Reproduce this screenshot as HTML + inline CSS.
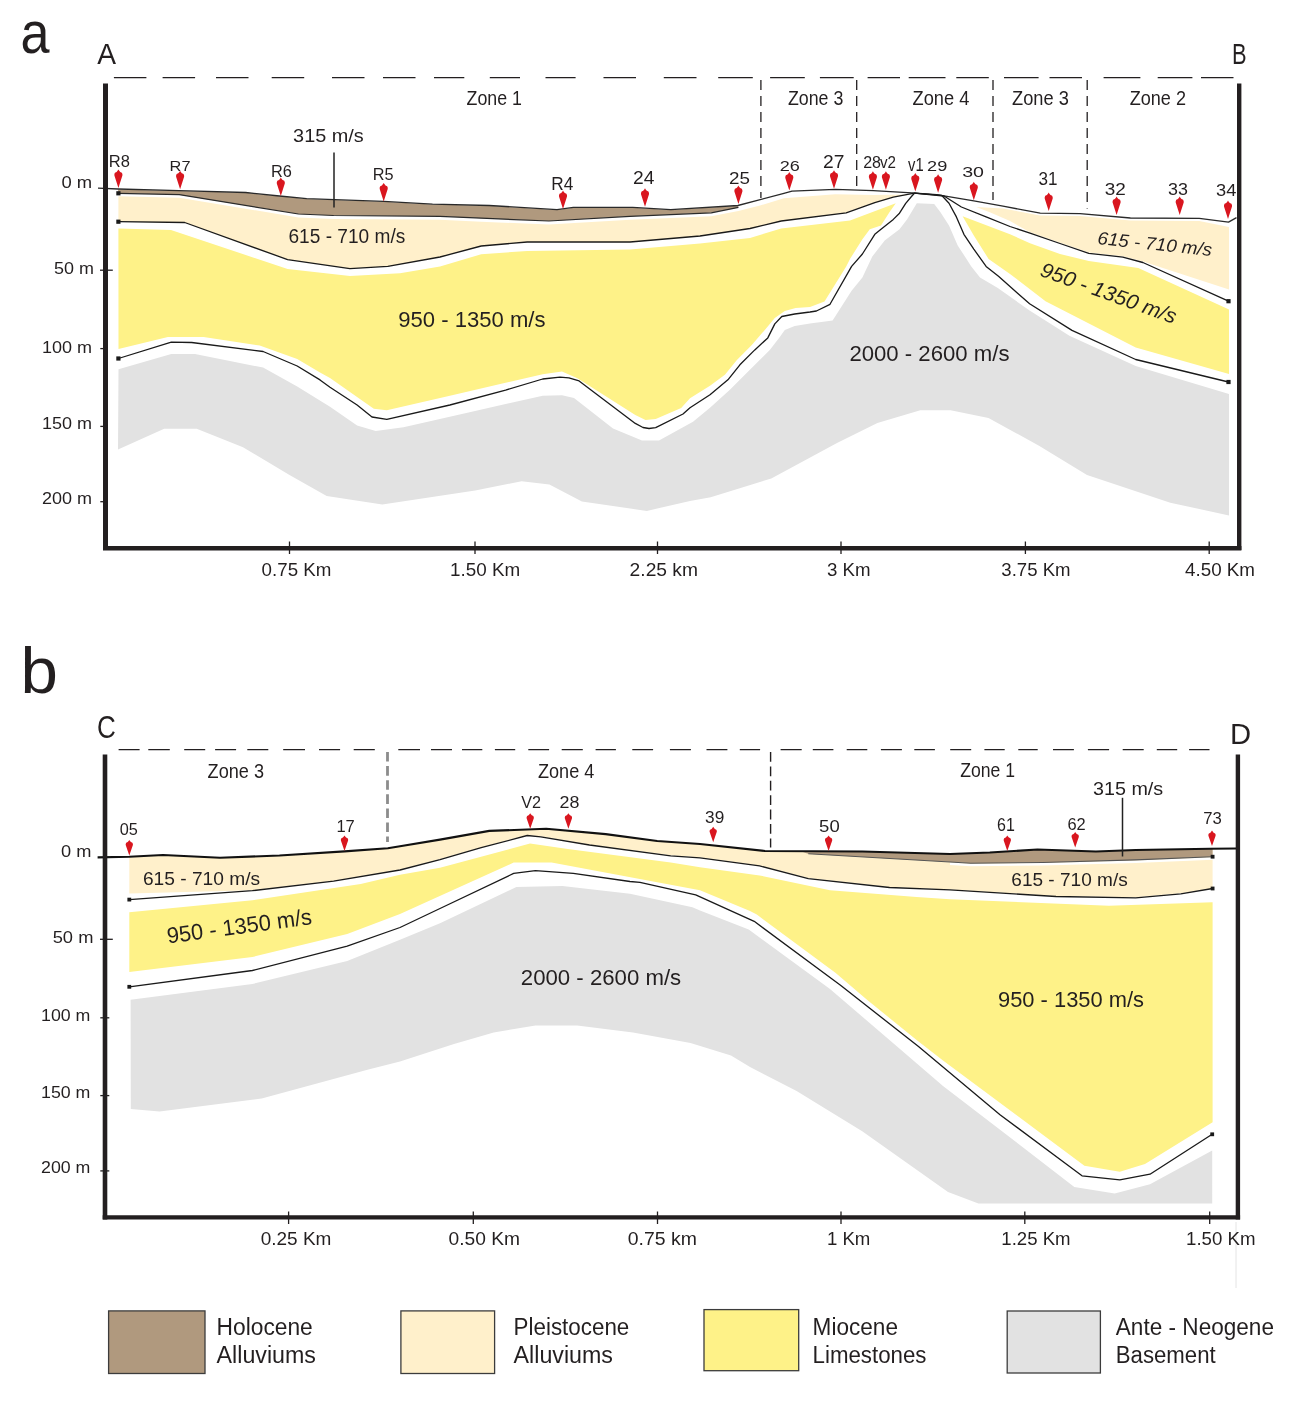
<!DOCTYPE html>
<html><head><meta charset="utf-8"><title>Cross sections</title>
<style>
html,body{margin:0;padding:0;background:#fff;}
body{width:1293px;height:1403px;overflow:hidden;font-family:"Liberation Sans",sans-serif;}
svg{display:block;will-change:transform;}
</style></head>
<body>
<svg width="1293" height="1403" viewBox="0 0 1293 1403">
<rect width="1293" height="1403" fill="#fff"/>
<polygon points="118.5,369.3 171.3,354.0 195.0,354.0 263.1,367.6 297.2,386.4 330.0,406.8 357.1,425.4 375.7,431.0 403.5,427.2 468.5,412.4 542.7,395.7 562.0,395.3 574.0,397.9 613.0,428.5 642.0,440.4 659.0,440.4 693.0,421.7 710.0,407.7 729.9,389.8 749.9,369.8 769.8,349.9 779.8,336.9 784.8,329.9 794.7,325.9 810.0,323.4 832.6,320.5 851.6,290.8 862.4,277.6 872.3,256.5 884.7,240.4 899.5,229.3 907.0,219.4 916.8,203.3 934.2,204.0 940.3,212.0 949.0,225.6 957.7,245.4 971.3,266.4 980.0,277.6 997.8,288.0 1029.6,310.5 1069.4,335.7 1135.7,366.0 1229.0,394.0 1229.0,515.4 1170.3,502.7 1087.0,475.0 1039.0,445.7 988.5,417.9 950.6,410.3 920.3,410.3 877.4,423.0 837.0,443.0 771.3,478.5 710.7,497.2 690.0,501.0 646.8,510.9 581.9,501.6 549.4,484.4 521.6,481.2 475.2,490.4 382.3,504.4 326.7,496.0 289.5,475.0 243.0,447.3 196.7,428.7 164.2,428.7 118.0,449.6" fill="#e2e2e2" />
<polygon points="118.4,228.5 171.0,230.0 287.6,269.0 350.0,276.0 400.0,273.2 440.0,266.4 481.2,254.2 527.2,251.0 630.0,249.6 700.0,243.4 750.0,238.0 781.2,228.5 850.0,220.6 895.8,203.3 889.6,212.0 881.0,225.6 869.8,229.3 862.4,239.2 850.0,259.0 846.2,266.4 824.5,301.6 810.0,307.0 795.7,308.0 784.8,311.0 774.8,318.0 764.8,329.9 751.8,344.9 736.9,359.9 724.9,374.8 710.0,385.8 690.0,398.3 681.2,408.0 655.7,419.0 645.5,420.0 635.3,414.9 577.4,378.3 562.0,371.5 542.7,374.3 505.6,382.7 449.9,395.7 386.8,410.2 373.8,408.7 330.0,377.9 320.0,372.5 297.2,359.1 259.7,345.5 203.6,337.0 167.9,337.0 118.5,348.9" fill="#fef288" />
<polygon points="962.6,216.3 1010.0,234.3 1030.0,243.2 1060.0,254.0 1088.8,261.0 1138.3,268.0 1229.0,309.5 1229.0,374.0 1135.7,347.6 1045.5,301.2 1010.0,273.9 988.6,259.0 973.8,235.5" fill="#fef288" />
<polygon points="118.4,196.3 179.3,197.8 298.4,217.4 333.6,219.0 440.0,219.8 481.2,221.7 548.9,224.5 630.0,219.8 711.3,216.3 738.4,211.0 760.0,205.5 783.9,198.3 835.3,194.3 873.3,195.0 911.9,194.5 893.3,197.1 874.8,202.7 850.0,210.7 846.2,212.8 781.2,221.0 750.0,228.5 700.0,236.0 630.0,242.0 527.2,242.0 481.2,246.0 440.0,257.0 387.8,266.4 349.9,268.6 287.6,259.6 184.7,222.5 118.4,221.7" fill="#fff0cb" />
<polygon points="976.2,207.0 1003.0,208.5 1040.2,215.5 1080.0,216.0 1130.4,220.5 1199.3,221.0 1229.0,227.0 1229.0,289.6 1142.9,261.5 1122.8,256.3 1088.8,252.5 1060.0,242.7 1030.0,232.3 1010.0,221.0 989.8,212.3" fill="#fff0cb" />
<polygon points="118.0,189.5 179.0,191.0 245.7,192.8 279.5,196.3 306.6,199.0 383.7,201.7 432.5,204.4 489.3,205.8 557.0,209.9 573.3,207.7 632.8,207.7 670.7,209.9 737.9,205.8 738.4,207.4 711.3,212.8 630.0,216.3 548.9,221.0 481.2,218.2 440.0,216.3 333.6,215.5 298.4,214.0 179.3,194.7 118.4,193.3" fill="#b0997e" />
<polyline points="98.0,188.2 118.0,189.0 179.0,190.6 245.7,192.5 279.5,196.0 306.6,198.7 383.7,201.4 432.5,204.1 489.3,205.5 557.0,209.6 573.3,207.4 632.8,207.4 670.7,209.6 737.9,205.5 783.9,193.3 792.0,191.1 835.3,189.3 873.3,190.6 911.9,192.8 936.6,194.7 973.8,200.8 1003.0,206.2 1040.2,213.1 1080.0,213.7 1130.4,218.0 1199.3,218.4 1228.5,222.1 1236.5,217.6" fill="none" stroke="#2a2a2a" stroke-width="1.3" stroke-linejoin="round" />
<polyline points="118.4,193.3 179.3,194.7 298.4,214.0 333.6,215.5 440.0,216.3 481.2,218.2 548.9,221.0 630.0,216.3 711.3,212.8 738.4,207.4" fill="none" stroke="#2a2a2a" stroke-width="1.2" stroke-linejoin="round" />
<polyline points="118.4,221.7 184.7,222.5 287.6,259.6 349.9,268.6 387.8,266.4 440.0,257.0 481.2,246.0 527.2,242.0 630.0,242.0 700.0,236.0 750.0,228.5 781.2,221.0 846.2,212.8 874.8,202.7 893.3,197.1 914.4,193.2 944.0,196.0 961.4,207.0 986.1,216.9 1010.0,226.5 1030.0,233.1 1060.0,243.5 1088.8,253.3 1122.8,257.1 1142.9,262.5 1228.5,301.2" fill="none" stroke="#1a1a1a" stroke-width="1.3" stroke-linejoin="round" />
<polyline points="118.4,358.5 171.3,342.1 191.7,342.5 263.1,351.5 297.2,366.0 320.0,379.9 330.0,387.2 357.1,405.0 372.0,417.0 386.8,419.4 449.9,405.0 505.6,390.1 542.7,379.0 560.0,377.1 568.9,377.8 579.1,380.9 635.3,423.4 643.0,427.5 649.0,428.5 655.7,427.7 683.0,414.0 690.0,407.7 710.0,394.8 727.9,379.8 739.9,364.8 754.8,349.9 767.8,337.9 774.8,323.9 781.8,316.5 794.7,314.0 810.0,312.0 816.4,311.0 830.0,304.3 851.6,266.4 862.4,254.0 874.8,234.3 881.0,229.3 893.3,219.4 899.5,213.2 905.7,203.3 911.9,196.0 914.4,193.2 941.6,195.3 949.0,203.3 956.4,216.9 963.9,234.3 973.8,249.1 986.1,266.4 998.5,276.3 1029.6,303.8 1072.0,330.4 1135.7,359.5 1228.5,382.0" fill="none" stroke="#1a1a1a" stroke-width="1.3" stroke-linejoin="round" />
<rect x="116.3" y="191.2" width="4.2" height="4.2" fill="#1a1a1a"/>
<rect x="116.3" y="219.6" width="4.2" height="4.2" fill="#1a1a1a"/>
<rect x="116.3" y="356.4" width="4.2" height="4.2" fill="#1a1a1a"/>
<rect x="1226.4" y="299.1" width="4.2" height="4.2" fill="#1a1a1a"/>
<rect x="1226.4" y="379.9" width="4.2" height="4.2" fill="#1a1a1a"/>
<line x1="334" y1="152.5" x2="334" y2="207.5" stroke="#222" stroke-width="1.5"/>
<g stroke="#231f20" fill="none">
<line x1="105.5" y1="83.5" x2="105.5" y2="550" stroke-width="5"/>
<line x1="103" y1="548.2" x2="1241.4" y2="548.2" stroke-width="4.6"/>
<line x1="1239.2" y1="83.5" x2="1239.2" y2="550" stroke-width="4.4"/>
<line x1="100" y1="270.2" x2="112.8" y2="270.2" stroke-width="1.3"/>
<line x1="100.3" y1="348.6" x2="108" y2="348.6" stroke-width="1.3"/>
<line x1="100.3" y1="426.4" x2="108" y2="426.4" stroke-width="1.3"/>
<line x1="100.3" y1="501.7" x2="108" y2="501.7" stroke-width="1.3"/>
<line x1="289.5" y1="541.5" x2="289.5" y2="554" stroke-width="1.3"/>
<line x1="475" y1="541.5" x2="475" y2="554" stroke-width="1.3"/>
<line x1="657.5" y1="541.5" x2="657.5" y2="554" stroke-width="1.3"/>
<line x1="841" y1="541.5" x2="841" y2="554" stroke-width="1.3"/>
<line x1="1025.4" y1="541.5" x2="1025.4" y2="554" stroke-width="1.3"/>
<line x1="1209.2" y1="541.5" x2="1209.2" y2="554" stroke-width="1.3"/>
</g>
<path d="M113.9,77.6H146.4 M162.6,77.6H195.1 M216,77.6H248.5 M271.7,77.6H304.2 M332,77.6H364.5 M383,77.6H415.5 M434,77.6H464.3 M489.8,77.6H520 M545.5,77.6H575.6 M603.5,77.6H636 M663.8,77.6H696.5 M718.2,77.6H752.8 M770.1,77.6H804.8 M819.9,77.6H853.7 M867.6,77.6H900 M908.7,77.6H945.5 M956.3,77.6H988.8 M1004,77.6H1038.6 M1049.5,77.6H1082 M1103.6,77.6H1140.4 M1157.7,77.6H1192.4 M1201,77.6H1233.5" stroke="#231f20" stroke-width="1.2" fill="none"/>
<line x1="760.9" y1="80" x2="760.9" y2="198" stroke="#231f20" stroke-width="1.3" stroke-dasharray="10 6"/>
<line x1="856.7" y1="80" x2="856.7" y2="186" stroke="#231f20" stroke-width="1.3" stroke-dasharray="10 6"/>
<line x1="993" y1="80" x2="993" y2="200" stroke="#231f20" stroke-width="1.3" stroke-dasharray="10 6"/>
<line x1="1087.2" y1="80" x2="1087.2" y2="208.5" stroke="#231f20" stroke-width="1.3" stroke-dasharray="10 6"/>
<polygon points="130.6,999.8 252.4,984.0 347.2,961.0 400.0,939.7 440.0,923.2 516.4,887.0 562.4,886.1 630.0,893.7 692.4,907.2 700.0,910.5 748.7,929.5 830.0,989.0 889.5,1040.0 943.0,1085.9 1074.3,1186.9 1114.7,1193.4 1150.0,1184.3 1212.2,1150.5 1212.2,1203.5 978.4,1203.5 948.0,1192.0 862.2,1131.3 796.6,1091.0 750.0,1067.0 731.0,1055.6 690.5,1043.0 633.0,1032.5 577.2,1025.5 535.5,1025.5 493.7,1032.5 454.0,1044.0 400.0,1061.5 368.4,1069.6 261.7,1098.4 159.6,1111.4 130.8,1109.0" fill="#e2e2e2" />
<polygon points="129.3,912.3 252.4,900.2 360.7,883.9 400.0,874.7 440.0,867.7 530.0,843.6 567.8,849.0 670.7,862.6 700.0,867.2 759.6,875.4 830.0,890.2 916.6,897.0 950.0,899.2 1109.0,905.8 1212.6,902.3 1212.6,1122.2 1145.0,1164.0 1119.8,1171.7 1084.4,1165.7 943.0,1060.6 916.6,1040.0 867.3,1000.0 835.4,972.8 756.8,914.6 750.0,911.0 700.0,890.2 551.6,862.6 513.7,862.6 400.0,914.0 347.2,934.0 252.4,957.0 129.3,971.9" fill="#fef288" />
<polygon points="129.3,857.5 163.0,855.0 220.0,857.7 279.5,855.5 344.5,851.4 387.8,848.2 400.0,846.3 440.0,839.6 489.3,830.9 546.2,828.7 605.7,834.1 657.2,841.0 700.0,844.0 765.0,851.0 862.4,851.5 950.0,854.0 989.8,852.5 1037.5,849.5 1095.9,851.5 1135.7,850.0 1210.0,848.8 1212.6,848.0 1212.6,888.5 1180.8,893.3 1135.7,897.3 1056.0,896.0 950.0,889.4 889.5,887.0 808.3,878.1 759.6,865.4 700.0,857.3 670.7,855.3 589.5,844.5 540.8,836.3 527.2,835.0 481.2,847.2 440.0,859.1 400.0,869.5 333.6,880.7 252.4,890.2 129.3,893.4" fill="#fff0cb" />
<polygon points="803.0,852.3 862.4,851.5 950.0,854.0 989.8,852.5 1037.5,849.5 1095.9,851.5 1135.7,850.0 1210.0,848.8 1212.6,848.8 1212.6,856.7 1135.7,859.9 1042.8,862.5 970.7,863.2 950.0,862.0 808.3,853.7" fill="#b0997e" />
<polyline points="97.6,857.4 129.3,856.8 163.0,855.0 220.0,857.7 279.5,855.5 344.5,851.4 387.8,848.2 400.0,846.3 440.0,839.6 489.3,830.9 546.2,828.7 605.7,834.1 657.2,841.0 700.0,844.0 765.0,851.0 862.4,851.5 950.0,854.0 989.8,852.5 1037.5,849.5 1095.9,851.5 1135.7,850.0 1210.0,848.8 1236.5,848.5" fill="none" stroke="#111" stroke-width="2.1" stroke-linejoin="round" />
<polyline points="129.3,899.6 252.4,890.7 333.6,881.2 400.0,870.0 440.0,859.6 481.2,847.7 527.2,835.5 540.8,836.8 589.5,845.0 670.7,855.8 700.0,857.8 759.6,865.9 808.3,878.6 889.5,887.5 950.0,889.9 1056.0,896.5 1135.7,897.8 1180.8,893.8 1212.6,888.5" fill="none" stroke="#1a1a1a" stroke-width="1.3" stroke-linejoin="round" />
<polyline points="950.0,863.8 970.7,865.0 1042.8,864.3 1135.7,861.7 1212.6,858.5" fill="none" stroke="#fff" stroke-width="2.6" stroke-linejoin="round" />
<polyline points="808.3,853.7 950.0,862.0 970.7,863.2 1042.8,862.5 1135.7,859.9 1212.6,856.7" fill="none" stroke="#555" stroke-width="1.1" stroke-linejoin="round" />
<polyline points="129.3,986.8 252.4,970.5 347.2,946.2 400.0,927.5 440.0,908.5 513.7,873.4 535.4,870.7 573.3,873.4 630.0,881.5 640.0,882.3 695.7,894.8 754.2,921.3 840.5,985.3 918.5,1046.5 1000.0,1114.7 1082.0,1175.8 1119.8,1179.8 1150.0,1174.2 1212.2,1134.3" fill="none" stroke="#1a1a1a" stroke-width="1.3" stroke-linejoin="round" />
<rect x="127.4" y="897.7" width="3.8" height="3.8" fill="#1a1a1a"/>
<rect x="127.4" y="984.9" width="3.8" height="3.8" fill="#1a1a1a"/>
<rect x="1210.7" y="854.8" width="3.8" height="3.8" fill="#1a1a1a"/>
<rect x="1210.7" y="886.6" width="3.8" height="3.8" fill="#1a1a1a"/>
<rect x="1210.3" y="1132.4" width="3.8" height="3.8" fill="#1a1a1a"/>
<line x1="1122.5" y1="797.8" x2="1122.5" y2="856.5" stroke="#222" stroke-width="1.5"/>
<g stroke="#231f20" fill="none">
<line x1="105" y1="754.5" x2="105" y2="1219.5" stroke-width="4.6"/>
<line x1="102.7" y1="1217.4" x2="1240.1" y2="1217.4" stroke-width="4.2"/>
<line x1="1237.9" y1="754.5" x2="1237.9" y2="1219.5" stroke-width="4.4"/>
<line x1="100" y1="939.3" x2="112.8" y2="939.3" stroke-width="1.3"/>
<line x1="100.3" y1="1017.8" x2="109.3" y2="1017.8" stroke-width="1.3"/>
<line x1="100.3" y1="1095.6" x2="109.3" y2="1095.6" stroke-width="1.3"/>
<line x1="100.3" y1="1170.9" x2="109.3" y2="1170.9" stroke-width="1.3"/>
<line x1="288.6" y1="1211.5" x2="288.6" y2="1224" stroke-width="1.3"/>
<line x1="473.3" y1="1211.5" x2="473.3" y2="1224" stroke-width="1.3"/>
<line x1="657.5" y1="1211.5" x2="657.5" y2="1224" stroke-width="1.3"/>
<line x1="841" y1="1211.5" x2="841" y2="1224" stroke-width="1.3"/>
<line x1="1024.8" y1="1211.5" x2="1024.8" y2="1224" stroke-width="1.3"/>
<line x1="1209.7" y1="1211.5" x2="1209.7" y2="1224" stroke-width="1.3"/>
</g>
<path d="M118.6,749.6H139.6 M148.3,749.6H169.8 M184.2,749.6H205.2 M215.1,749.6H236.1 M247.3,749.6H268.3 M283.2,749.6H305 M319,749.6H340.1 M353.7,749.6H374.8 M398.3,749.6H420 M431,749.6H452 M462,749.6H482.3 M494.9,749.6H515.2 M528.3,749.6H549.1 M561.7,749.6H582.8 M595.6,749.6H615.9 M632.3,749.6H653.1 M669.9,749.6H690.9 M706.5,749.6H727.4 M739.8,749.6H760.1 M780.6,749.6H801.7 M812.8,749.6H833.4 M846.7,749.6H867.3 M880.9,749.6H901.9 M914.3,749.6H934.9 M950.2,749.6H971.2 M984.4,749.6H1004.7 M1018.3,749.6H1037.7 M1053,749.6H1073.9 M1087.9,749.6H1109.1 M1122.7,749.6H1143.7 M1156.8,749.6H1177.2 M1189.1,749.6H1209.5" stroke="#231f20" stroke-width="1.3" fill="none"/>
<line x1="387.5" y1="752" x2="387.5" y2="842" stroke="#8c8c8c" stroke-width="2.8" stroke-dasharray="9.6 4.5"/>
<line x1="770.6" y1="752" x2="770.6" y2="847.5" stroke="#231f20" stroke-width="1.4" stroke-dasharray="9.8 4.6"/>
<line x1="1236" y1="1222" x2="1236" y2="1288" stroke="#e4e4e4" stroke-width="1"/>
<path d="M118.40,187.90 L114.40,175.40 L114.40,174.10 Q114.40,172.50 116.60,171.90 L117.70,170.60 L118.40,169.40 L119.10,170.60 L120.20,171.90 Q122.40,172.50 122.40,174.10 L122.40,175.40 Z" fill="#d9161f"/>
<path d="M180.10,189.30 L176.10,176.80 L176.10,175.50 Q176.10,173.90 178.30,173.30 L179.40,172.00 L180.10,170.80 L180.80,172.00 L181.90,173.30 Q184.10,173.90 184.10,175.50 L184.10,176.80 Z" fill="#d9161f"/>
<path d="M280.80,196.00 L276.80,183.50 L276.80,182.20 Q276.80,180.60 279.00,180.00 L280.10,178.70 L280.80,177.50 L281.50,178.70 L282.60,180.00 Q284.80,180.60 284.80,182.20 L284.80,183.50 Z" fill="#d9161f"/>
<path d="M383.70,201.40 L379.70,188.90 L379.70,187.60 Q379.70,186.00 381.90,185.40 L383.00,184.10 L383.70,182.90 L384.40,184.10 L385.50,185.40 Q387.70,186.00 387.70,187.60 L387.70,188.90 Z" fill="#d9161f"/>
<path d="M563.00,209.00 L559.00,196.50 L559.00,195.20 Q559.00,193.60 561.20,193.00 L562.30,191.70 L563.00,190.50 L563.70,191.70 L564.80,193.00 Q567.00,193.60 567.00,195.20 L567.00,196.50 Z" fill="#d9161f"/>
<path d="M645.00,206.80 L641.00,194.30 L641.00,193.00 Q641.00,191.40 643.20,190.80 L644.30,189.50 L645.00,188.30 L645.70,189.50 L646.80,190.80 Q649.00,191.40 649.00,193.00 L649.00,194.30 Z" fill="#d9161f"/>
<path d="M738.40,204.10 L734.40,191.60 L734.40,190.30 Q734.40,188.70 736.60,188.10 L737.70,186.80 L738.40,185.60 L739.10,186.80 L740.20,188.10 Q742.40,188.70 742.40,190.30 L742.40,191.60 Z" fill="#d9161f"/>
<path d="M789.30,190.60 L785.30,178.10 L785.30,176.80 Q785.30,175.20 787.50,174.60 L788.60,173.30 L789.30,172.10 L790.00,173.30 L791.10,174.60 Q793.30,175.20 793.30,176.80 L793.30,178.10 Z" fill="#d9161f"/>
<path d="M834.00,188.70 L830.00,176.20 L830.00,174.90 Q830.00,173.30 832.20,172.70 L833.30,171.40 L834.00,170.20 L834.70,171.40 L835.80,172.70 Q838.00,173.30 838.00,174.90 L838.00,176.20 Z" fill="#d9161f"/>
<path d="M872.90,189.70 L868.90,177.20 L868.90,175.90 Q868.90,174.30 871.10,173.70 L872.20,172.40 L872.90,171.20 L873.60,172.40 L874.70,173.70 Q876.90,174.30 876.90,175.90 L876.90,177.20 Z" fill="#d9161f"/>
<path d="M885.90,189.70 L881.90,177.20 L881.90,175.90 Q881.90,174.30 884.10,173.70 L885.20,172.40 L885.90,171.20 L886.60,172.40 L887.70,173.70 Q889.90,174.30 889.90,175.90 L889.90,177.20 Z" fill="#d9161f"/>
<path d="M915.30,191.60 L911.30,179.10 L911.30,177.80 Q911.30,176.20 913.50,175.60 L914.60,174.30 L915.30,173.10 L916.00,174.30 L917.10,175.60 Q919.30,176.20 919.30,177.80 L919.30,179.10 Z" fill="#d9161f"/>
<path d="M938.10,192.80 L934.10,180.30 L934.10,179.00 Q934.10,177.40 936.30,176.80 L937.40,175.50 L938.10,174.30 L938.80,175.50 L939.90,176.80 Q942.10,177.40 942.10,179.00 L942.10,180.30 Z" fill="#d9161f"/>
<path d="M973.80,200.20 L969.80,187.70 L969.80,186.40 Q969.80,184.80 972.00,184.20 L973.10,182.90 L973.80,181.70 L974.50,182.90 L975.60,184.20 Q977.80,184.80 977.80,186.40 L977.80,187.70 Z" fill="#d9161f"/>
<path d="M1048.70,211.00 L1044.70,198.50 L1044.70,197.20 Q1044.70,195.60 1046.90,195.00 L1048.00,193.70 L1048.70,192.50 L1049.40,193.70 L1050.50,195.00 Q1052.70,195.60 1052.70,197.20 L1052.70,198.50 Z" fill="#d9161f"/>
<path d="M1116.60,215.00 L1112.60,202.50 L1112.60,201.20 Q1112.60,199.60 1114.80,199.00 L1115.90,197.70 L1116.60,196.50 L1117.30,197.70 L1118.40,199.00 Q1120.60,199.60 1120.60,201.20 L1120.60,202.50 Z" fill="#d9161f"/>
<path d="M1179.70,215.00 L1175.70,202.50 L1175.70,201.20 Q1175.70,199.60 1177.90,199.00 L1179.00,197.70 L1179.70,196.50 L1180.40,197.70 L1181.50,199.00 Q1183.70,199.60 1183.70,201.20 L1183.70,202.50 Z" fill="#d9161f"/>
<path d="M1228.00,219.00 L1224.00,206.50 L1224.00,205.20 Q1224.00,203.60 1226.20,203.00 L1227.30,201.70 L1228.00,200.50 L1228.70,201.70 L1229.80,203.00 Q1232.00,203.60 1232.00,205.20 L1232.00,206.50 Z" fill="#d9161f"/>
<path d="M129.30,855.50 L125.70,845.03 L125.70,843.94 Q125.70,842.60 127.68,842.09 L128.60,841.01 L129.30,840.00 L130.00,841.01 L130.92,842.09 Q132.90,842.60 132.90,843.94 L132.90,845.03 Z" fill="#d9161f"/>
<path d="M344.50,850.90 L340.90,840.43 L340.90,839.34 Q340.90,838.00 342.88,837.49 L343.80,836.41 L344.50,835.40 L345.20,836.41 L346.12,837.49 Q348.10,838.00 348.10,839.34 L348.10,840.43 Z" fill="#d9161f"/>
<path d="M530.20,828.70 L526.60,818.23 L526.60,817.14 Q526.60,815.80 528.58,815.29 L529.50,814.21 L530.20,813.20 L530.90,814.21 L531.82,815.29 Q533.80,815.80 533.80,817.14 L533.80,818.23 Z" fill="#d9161f"/>
<path d="M568.40,828.70 L564.80,818.23 L564.80,817.14 Q564.80,815.80 566.78,815.29 L567.70,814.21 L568.40,813.20 L569.10,814.21 L570.02,815.29 Q572.00,815.80 572.00,817.14 L572.00,818.23 Z" fill="#d9161f"/>
<path d="M713.20,842.30 L709.60,831.83 L709.60,830.74 Q709.60,829.40 711.58,828.89 L712.50,827.81 L713.20,826.80 L713.90,827.81 L714.82,828.89 Q716.80,829.40 716.80,830.74 L716.80,831.83 Z" fill="#d9161f"/>
<path d="M828.60,851.00 L825.00,840.53 L825.00,839.44 Q825.00,838.10 826.98,837.59 L827.90,836.51 L828.60,835.50 L829.30,836.51 L830.22,837.59 Q832.20,838.10 832.20,839.44 L832.20,840.53 Z" fill="#d9161f"/>
<path d="M1007.30,851.00 L1003.70,840.53 L1003.70,839.44 Q1003.70,838.10 1005.68,837.59 L1006.60,836.51 L1007.30,835.50 L1008.00,836.51 L1008.92,837.59 Q1010.90,838.10 1010.90,839.44 L1010.90,840.53 Z" fill="#d9161f"/>
<path d="M1075.20,847.40 L1071.60,836.93 L1071.60,835.84 Q1071.60,834.50 1073.58,833.99 L1074.50,832.91 L1075.20,831.90 L1075.90,832.91 L1076.82,833.99 Q1078.80,834.50 1078.80,835.84 L1078.80,836.93 Z" fill="#d9161f"/>
<path d="M1212.00,846.10 L1208.40,835.63 L1208.40,834.54 Q1208.40,833.20 1210.38,832.69 L1211.30,831.61 L1212.00,830.60 L1212.70,831.61 L1213.62,832.69 Q1215.60,833.20 1215.60,834.54 L1215.60,835.63 Z" fill="#d9161f"/>
<rect x="108.6" y="1310.9" width="96.4" height="62.6" fill="#b0997e" stroke="#3c3c3c" stroke-width="1.3"/>
<rect x="400.9" y="1310.9" width="93.7" height="62.6" fill="#fff0cb" stroke="#3c3c3c" stroke-width="1.3"/>
<rect x="704" y="1309.6" width="94.7" height="61.1" fill="#fef288" stroke="#3c3c3c" stroke-width="1.3"/>
<rect x="1007.2" y="1311" width="93.2" height="62.0" fill="#e2e2e2" stroke="#3c3c3c" stroke-width="1.3"/>
<g fill="#231f20" font-family="Liberation Sans, sans-serif">
<text x="20.5" y="53.3" font-size="60" textLength="29.0" lengthAdjust="spacingAndGlyphs" >a</text>
<text x="20.6" y="692.8" font-size="64" textLength="37.4" lengthAdjust="spacingAndGlyphs" >b</text>
<text x="97.2" y="63.6" font-size="29.5" textLength="18.8" lengthAdjust="spacingAndGlyphs" >A</text>
<text x="1232.1" y="63.9" font-size="29.5" textLength="14.6" lengthAdjust="spacingAndGlyphs" >B</text>
<text x="96.9" y="738.0" font-size="30.5" textLength="18.8" lengthAdjust="spacingAndGlyphs" >C</text>
<text x="1230.0" y="743.7" font-size="29.5" textLength="21.1" lengthAdjust="spacingAndGlyphs" >D</text>
<text x="466.6" y="105.4" font-size="19.5" textLength="55.4" lengthAdjust="spacingAndGlyphs" >Zone 1</text>
<text x="787.9" y="105.4" font-size="19.5" textLength="55.4" lengthAdjust="spacingAndGlyphs" >Zone 3</text>
<text x="912.5" y="105.4" font-size="19.5" textLength="56.8" lengthAdjust="spacingAndGlyphs" >Zone 4</text>
<text x="1012.0" y="105.4" font-size="19.5" textLength="56.8" lengthAdjust="spacingAndGlyphs" >Zone 3</text>
<text x="1129.7" y="105.4" font-size="19.5" textLength="56.3" lengthAdjust="spacingAndGlyphs" >Zone 2</text>
<text x="207.6" y="778.3" font-size="19.5" textLength="56.4" lengthAdjust="spacingAndGlyphs" >Zone 3</text>
<text x="538.0" y="778.3" font-size="19.5" textLength="56.3" lengthAdjust="spacingAndGlyphs" >Zone 4</text>
<text x="960.2" y="777.4" font-size="19.5" textLength="54.8" lengthAdjust="spacingAndGlyphs" >Zone 1</text>
<text x="61.4" y="188.0" font-size="16.3" textLength="30.7" lengthAdjust="spacingAndGlyphs" >0 m</text>
<text x="54.0" y="274.2" font-size="16.3" textLength="39.9" lengthAdjust="spacingAndGlyphs" >50 m</text>
<text x="42.0" y="352.5" font-size="16.3" textLength="50.1" lengthAdjust="spacingAndGlyphs" >100 m</text>
<text x="42.0" y="429.4" font-size="16.3" textLength="50.1" lengthAdjust="spacingAndGlyphs" >150 m</text>
<text x="42.0" y="503.7" font-size="16.3" textLength="50.1" lengthAdjust="spacingAndGlyphs" >200 m</text>
<text x="61.0" y="856.7" font-size="16.3" textLength="30.4" lengthAdjust="spacingAndGlyphs" >0 m</text>
<text x="52.7" y="943.0" font-size="16.3" textLength="40.7" lengthAdjust="spacingAndGlyphs" >50 m</text>
<text x="41.0" y="1021.3" font-size="16.3" textLength="49.4" lengthAdjust="spacingAndGlyphs" >100 m</text>
<text x="41.0" y="1097.6" font-size="16.3" textLength="49.4" lengthAdjust="spacingAndGlyphs" >150 m</text>
<text x="41.0" y="1173.4" font-size="16.3" textLength="49.4" lengthAdjust="spacingAndGlyphs" >200 m</text>
<text x="261.6" y="575.8" font-size="19.2" textLength="69.8" lengthAdjust="spacingAndGlyphs" >0.75 Km</text>
<text x="450.0" y="575.8" font-size="19.2" textLength="70.2" lengthAdjust="spacingAndGlyphs" >1.50 Km</text>
<text x="629.6" y="575.8" font-size="19.2" textLength="68.4" lengthAdjust="spacingAndGlyphs" >2.25 km</text>
<text x="826.9" y="575.8" font-size="19.2" textLength="43.6" lengthAdjust="spacingAndGlyphs" >3 Km</text>
<text x="1001.3" y="575.8" font-size="19.2" textLength="69.3" lengthAdjust="spacingAndGlyphs" >3.75 Km</text>
<text x="1185.0" y="575.8" font-size="19.2" textLength="70.0" lengthAdjust="spacingAndGlyphs" >4.50 Km</text>
<text x="260.7" y="1244.9" font-size="19.2" textLength="70.7" lengthAdjust="spacingAndGlyphs" >0.25 Km</text>
<text x="448.5" y="1244.9" font-size="19.2" textLength="71.5" lengthAdjust="spacingAndGlyphs" >0.50 Km</text>
<text x="627.8" y="1244.9" font-size="19.2" textLength="69.1" lengthAdjust="spacingAndGlyphs" >0.75 km</text>
<text x="826.9" y="1244.9" font-size="19.2" textLength="43.5" lengthAdjust="spacingAndGlyphs" >1 Km</text>
<text x="1001.3" y="1244.9" font-size="19.2" textLength="69.3" lengthAdjust="spacingAndGlyphs" >1.25 Km</text>
<text x="1186.0" y="1244.9" font-size="19.2" textLength="69.5" lengthAdjust="spacingAndGlyphs" >1.50 Km</text>
<text x="293.1" y="141.7" font-size="19" textLength="70.7" lengthAdjust="spacingAndGlyphs" >315 m/s</text>
<text x="288.5" y="242.6" font-size="19.5" textLength="116.8" lengthAdjust="spacingAndGlyphs" >615 - 710 m/s</text>
<text x="398.2" y="327.0" font-size="21.8" textLength="147.3" lengthAdjust="spacingAndGlyphs" >950 - 1350 m/s</text>
<text x="849.4" y="360.7" font-size="21.8" textLength="160.1" lengthAdjust="spacingAndGlyphs" >2000 - 2600 m/s</text>
<text x="1097" y="244" font-size="18" textLength="115" lengthAdjust="spacingAndGlyphs" transform="rotate(6 1097 244)" font-style="italic">615 - 710 m/s</text>
<text x="1039" y="275.5" font-size="21" textLength="143" lengthAdjust="spacingAndGlyphs" transform="rotate(19.8 1039 275.5)" font-style="italic">950 - 1350 m/s</text>
<text x="142.9" y="885.3" font-size="18.5" textLength="117.3" lengthAdjust="spacingAndGlyphs" >615 - 710 m/s</text>
<text x="168" y="943.6" font-size="22.5" textLength="146" lengthAdjust="spacingAndGlyphs" transform="rotate(-7.7 168 943.6)">950 - 1350 m/s</text>
<text x="520.8" y="984.6" font-size="21.5" textLength="160.4" lengthAdjust="spacingAndGlyphs" >2000 - 2600 m/s</text>
<text x="1011.3" y="885.6" font-size="18.8" textLength="116.4" lengthAdjust="spacingAndGlyphs" >615 - 710 m/s</text>
<text x="998.0" y="1007.0" font-size="22" textLength="146.0" lengthAdjust="spacingAndGlyphs" >950 - 1350 m/s</text>
<text x="1093.0" y="794.8" font-size="18.4" textLength="70.2" lengthAdjust="spacingAndGlyphs" >315 m/s</text>
<text x="108.8" y="167.3" font-size="16.6" textLength="21.1" lengthAdjust="spacingAndGlyphs" >R8</text>
<text x="169.6" y="170.9" font-size="15.5" textLength="20.9" lengthAdjust="spacingAndGlyphs" >R7</text>
<text x="270.9" y="176.6" font-size="16" textLength="20.9" lengthAdjust="spacingAndGlyphs" >R6</text>
<text x="372.8" y="180.4" font-size="16" textLength="20.8" lengthAdjust="spacingAndGlyphs" >R5</text>
<text x="551.3" y="190.0" font-size="17.5" textLength="22.0" lengthAdjust="spacingAndGlyphs" >R4</text>
<text x="633.1" y="183.8" font-size="18.7" textLength="21.4" lengthAdjust="spacingAndGlyphs" >24</text>
<text x="729.1" y="183.8" font-size="16" textLength="20.9" lengthAdjust="spacingAndGlyphs" >25</text>
<text x="779.8" y="170.7" font-size="15" textLength="20.1" lengthAdjust="spacingAndGlyphs" >26</text>
<text x="823.1" y="168.0" font-size="17.7" textLength="21.4" lengthAdjust="spacingAndGlyphs" >27</text>
<text x="863.2" y="167.9" font-size="16" textLength="17.8" lengthAdjust="spacingAndGlyphs" >28</text>
<text x="880.0" y="167.9" font-size="16" textLength="16.0" lengthAdjust="spacingAndGlyphs" >v2</text>
<text x="908.0" y="170.9" font-size="18" textLength="15.6" lengthAdjust="spacingAndGlyphs" >v1</text>
<text x="927.1" y="170.9" font-size="15.2" textLength="20.2" lengthAdjust="spacingAndGlyphs" >29</text>
<text x="962.2" y="176.6" font-size="14.7" textLength="21.8" lengthAdjust="spacingAndGlyphs" >30</text>
<text x="1038.6" y="184.8" font-size="17.5" textLength="19.0" lengthAdjust="spacingAndGlyphs" >31</text>
<text x="1104.7" y="195.0" font-size="17" textLength="21.1" lengthAdjust="spacingAndGlyphs" >32</text>
<text x="1168.1" y="195.0" font-size="17" textLength="19.9" lengthAdjust="spacingAndGlyphs" >33</text>
<text x="1216.0" y="195.9" font-size="16.3" textLength="20.3" lengthAdjust="spacingAndGlyphs" >34</text>
<text x="119.8" y="834.8" font-size="17.4" textLength="18.1" lengthAdjust="spacingAndGlyphs" >05</text>
<text x="336.4" y="832.0" font-size="17.2" textLength="18.4" lengthAdjust="spacingAndGlyphs" >17</text>
<text x="521.3" y="807.6" font-size="17.2" textLength="19.8" lengthAdjust="spacingAndGlyphs" >V2</text>
<text x="559.6" y="807.6" font-size="17.2" textLength="19.9" lengthAdjust="spacingAndGlyphs" >28</text>
<text x="705.1" y="823.3" font-size="17.2" textLength="19.2" lengthAdjust="spacingAndGlyphs" >39</text>
<text x="819.1" y="831.5" font-size="17.2" textLength="20.6" lengthAdjust="spacingAndGlyphs" >50</text>
<text x="997.0" y="831.3" font-size="17.6" textLength="17.8" lengthAdjust="spacingAndGlyphs" >61</text>
<text x="1067.4" y="829.9" font-size="16.6" textLength="18.3" lengthAdjust="spacingAndGlyphs" >62</text>
<text x="1203.2" y="823.6" font-size="17.2" textLength="18.6" lengthAdjust="spacingAndGlyphs" >73</text>
<text x="216.6" y="1335.0" font-size="23" textLength="96.2" lengthAdjust="spacingAndGlyphs" >Holocene</text>
<text x="216.6" y="1363.3" font-size="23" textLength="99.4" lengthAdjust="spacingAndGlyphs" >Alluviums</text>
<text x="513.6" y="1335.0" font-size="23" textLength="115.7" lengthAdjust="spacingAndGlyphs" >Pleistocene</text>
<text x="513.6" y="1363.3" font-size="23" textLength="99.4" lengthAdjust="spacingAndGlyphs" >Alluviums</text>
<text x="812.6" y="1335.2" font-size="23" textLength="85.4" lengthAdjust="spacingAndGlyphs" >Miocene</text>
<text x="812.6" y="1363.2" font-size="23" textLength="113.9" lengthAdjust="spacingAndGlyphs" >Limestones</text>
<text x="1115.8" y="1335.2" font-size="23" textLength="158.2" lengthAdjust="spacingAndGlyphs" >Ante - Neogene</text>
<text x="1115.8" y="1363.2" font-size="23" textLength="99.9" lengthAdjust="spacingAndGlyphs" >Basement</text>
</g>
</svg>
</body></html>
